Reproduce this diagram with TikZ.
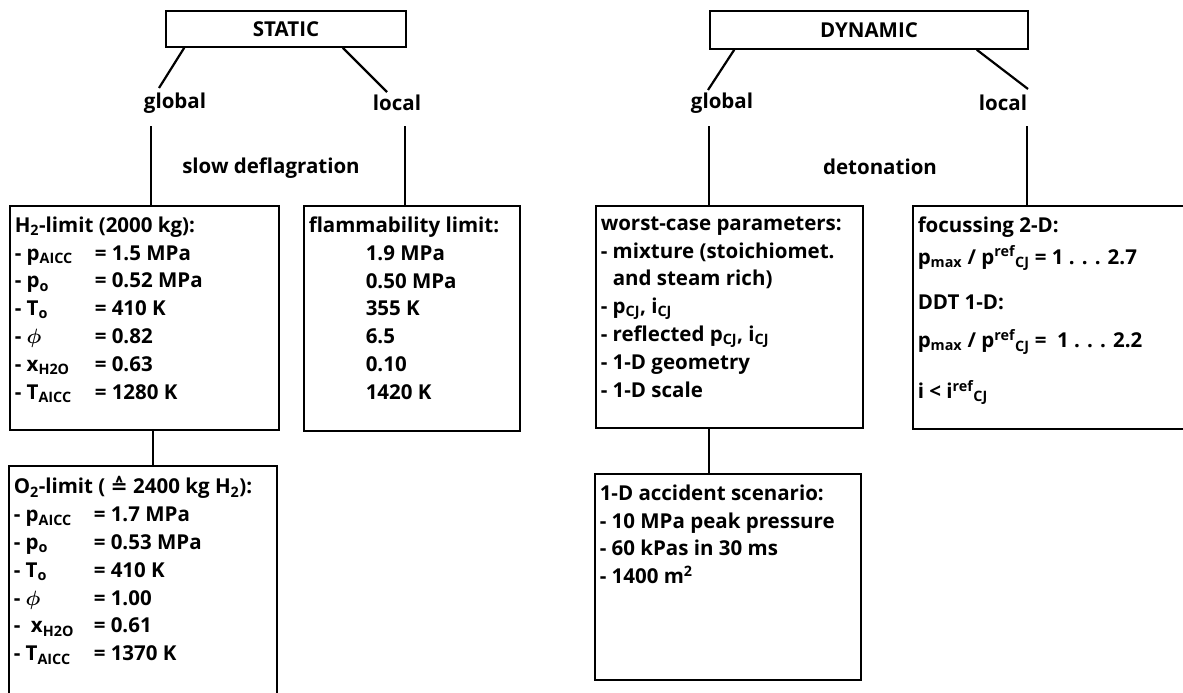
\documentclass[tikz,border=0pt]{standalone}
\usepackage{fontspec}
\setmainfont{Open Sans}
\newfontfamily\symfont{DejaVu Sans}
\usetikzlibrary{positioning}

% small helpers for the box texts
\newcommand{\lo}[1]{\textsubscript{#1}}
\newcommand{\hi}[1]{\textsuperscript{#1}}
\newcommand{\lbl}[1]{\makebox[80pt][l]{#1}}
\newcommand{\boxtext}[3]{\parbox[t][#2][t]{#1}{#3}}
\newcommand{\phisym}{{\boldmath$\phi$}}

\begin{document}
\begin{tikzpicture}[x=1pt,y=-1pt,
  font=\fontsize{20.5}{27.8}\selectfont\bfseries,
  headbox/.style={draw,line width=1.5pt,inner sep=0pt},
  infobox/.style={draw,line width=1.5pt,anchor=north west,inner xsep=5pt,inner ysep=11pt},
  branch/.style={line width=2.2pt}]
  \useasboundingbox (0,0) rectangle (1183,693);

  % STATIC side
  \node[headbox,minimum width=240pt,minimum height=36pt] (static) at (286,29) {STATIC};
  \node (sglobal) at (175,103) {global};
  \node (slocal) at (397,103) {local};
  \node (sdefl) at (271,168) {slow deflagration};
  \node[infobox] (h2lim) at (9,205) {\boxtext{259pt}{202pt}{%
    H\lo{2}-limit (2000 kg):\\
    \lbl{- p\lo{AICC}}= 1.5 MPa\\
    \lbl{- p\lo{o}}= 0.52 MPa\\
    \lbl{- T\lo{o}}= 410 K\\
    \lbl{- \phisym}= 0.82\\
    \lbl{- x\lo{H2O}}= 0.63\\
    \lbl{- T\lo{AICC}}= 1280 K}};
  \node[infobox] (flam) at (303,205) {\boxtext{206pt}{203pt}{%
    flammability limit:\\
    \hspace*{57pt}1.9 MPa\\
    \hspace*{57pt}0.50 MPa\\
    \hspace*{57pt}355 K\\
    \hspace*{57pt}6.5\\
    \hspace*{57pt}0.10\\
    \hspace*{57pt}1420 K}};
  \node[infobox] (o2lim) at (8,465) {\boxtext{258pt}{235pt}{%
    O\lo{2}-limit ( {\symfont ≙} 2400 kg H\lo{2}):\\
    \lbl{- p\lo{AICC}}= 1.7 MPa\\
    \lbl{- p\lo{o}}= 0.53 MPa\\
    \lbl{- T\lo{o}}= 410 K\\
    \lbl{- \phisym}= 1.00\\
    \lbl{-\ \ x\lo{H2O}}= 0.61\\
    \lbl{- T\lo{AICC}}= 1370 K}};

  \coordinate (sgl) at (159,88);
  \coordinate (slc) at (387,92);
  \coordinate (sgtop) at (151,126);
  \coordinate (sltop) at (405,126);
  \draw[branch] ([xshift=19pt]static.south west) -- (sgl);
  \draw[branch] ([xshift=-64pt]static.south east) -- (slc);
  \draw[branch] (h2lim.north -| sgtop) -- (sgtop);
  \draw[branch] (flam.north -| sltop) -- (sltop);
  \path ([xshift=9pt]h2lim.south) coordinate (h2o2);
  \draw[branch] (h2o2) -- (h2o2 |- o2lim.north);

  % DYNAMIC side
  \node[headbox,minimum width=318pt,minimum height=38pt] (dynamic) at (869,30) {DYNAMIC};
  \node (dglobal) at (722,103) {global};
  \node (dlocal) at (1003,103) {local};
  \node (deton) at (880,167) {detonation};
  \node[infobox] (worst) at (595,205) {\boxtext{257pt}{200pt}{%
    worst-case parameters:\\
    - mixture (stoichiomet.\\
    \hspace*{12pt}and steam rich)\\
    - p\lo{CJ}, i\lo{CJ}\\
    - reflected p\lo{CJ}, i\lo{CJ}\\
    - 1-D geometry\\
    - 1-D scale}};
  \node[infobox] (focus) at (912,205) {\boxtext{268pt}{201pt}{%
    focussing 2-D:\\[4pt]
    p\lo{max} / p\hi{ref}\lo{CJ} = 1 . . . 2.7\\[17pt]
    DDT 1-D:\\[11pt]
    p\lo{max} / p\hi{ref}\lo{CJ} = \ 1 . . . 2.2\\[23pt]
    \ i < i\hi{ref}\lo{CJ}}};
  \node[infobox] (scen) at (594,473) {\boxtext{256pt}{184pt}{%
    1-D accident scenario:\\
    - 10 MPa peak pressure\\
    - 60 kPas in 30 ms\\
    - 1400 m\hi{2}}};

  \coordinate (dgl) at (708,90);
  \coordinate (dlc) at (1028,89);
  \coordinate (dgtop) at (709,126);
  \coordinate (dltop) at (1027,126);
  \draw[branch] ([xshift=25pt]dynamic.south west) -- (dgl);
  \draw[branch] ([xshift=-52pt]dynamic.south east) -- (dlc);
  \draw[branch] (worst.north -| dgtop) -- (dgtop);
  \draw[branch] (focus.north -| dltop) -- (dltop);
  \path ([xshift=-20pt]worst.south) coordinate (wscen);
  \draw[branch] (wscen) -- (wscen |- scen.north);
\end{tikzpicture}
\end{document}
